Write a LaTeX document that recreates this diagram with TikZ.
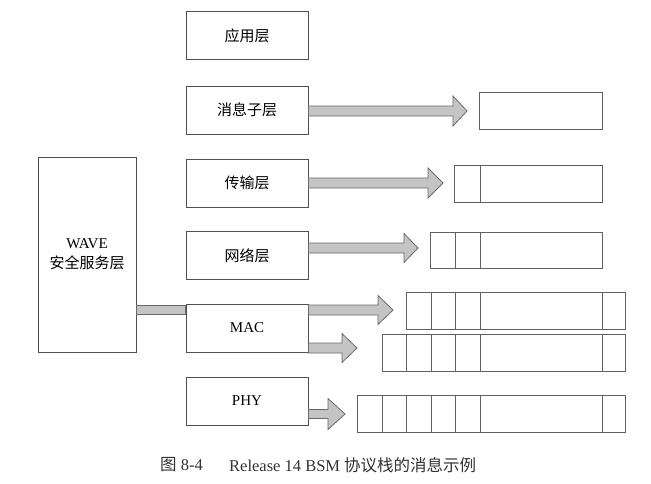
\documentclass[tikz,border=0pt]{standalone}
\usepackage{fontspec}
\setmainfont{Liberation Serif}
\newfontfamily\cjk{Noto Sans CJK SC}
\usetikzlibrary{calc}
\definecolor{boxc}{HTML}{505050}
\definecolor{cellc}{HTML}{606060}
\definecolor{arrc}{HTML}{6A6A6A}
\definecolor{arrfill}{HTML}{C4C4C4}
\newcommand{\blockarrow}[6]{% start node anchor, head start x, tip x, center y, half bar, half head
  \path[arr] ($(#1)+(0,-#5)$) coordinate (ta) -- (#2,#4-#5) -- (#2,#4-#6) -- (#3,#4) -- (#2,#4+#6) -- (#2,#4+#5) -- ($(#1)+(0,#5)$) -- cycle;}
\begin{document}
\begin{tikzpicture}[x=1pt,y=-1pt,
  layerbox/.style={draw=boxc, line width=0.8pt, fill=white, minimum width=122pt, minimum height=48pt, inner sep=0pt, font=\fontsize{15}{17}\selectfont},
  cellbox/.style={draw=cellc, line width=0.7pt, fill=white},
  arr/.style={draw=arrc, fill=arrfill, line width=0.8pt, line join=miter}]
\useasboundingbox (0,0) rectangle (651,483);
\fill[white] (0,0) rectangle (651,483);

% layer boxes
\node[layerbox] (app) at (247,35.5) {\cjk 应用层};
\node[layerbox] (msg) at (247,110) {\cjk 消息子层};
\node[layerbox] (trn) at (247,183) {\cjk 传输层};
\node[layerbox] (net) at (247,255.5) {\cjk 网络层};
\node[layerbox] (mac) at (247,328) {MAC};
\node[layerbox] (phy) at (247,401) {PHY};
\node[layerbox, minimum width=98pt, minimum height=195pt, align=center] (wave) at (87,254.5) {WAVE\\[3pt]{\cjk 安全服务层}};

% WAVE to MAC bar
\path[arr] (wave.east |- 0,305) rectangle (mac.west |- 0,314);

% arrows
\coordinate (a1) at (msg.east |- 0,111);
\blockarrow{a1}{453}{467}{111}{5}{15}
\coordinate (a2) at (trn.east |- 0,183);
\blockarrow{a2}{428}{443}{183}{5}{15}
\coordinate (a3) at (net.east |- 0,248);
\blockarrow{a3}{404}{418}{248}{5}{14.5}
\coordinate (a4) at (mac.east |- 0,310);
\blockarrow{a4}{378}{393}{310}{5}{14.5}
\coordinate (a5) at (mac.east |- 0,348);
\blockarrow{a5}{342}{357}{348}{5}{14.5}
\coordinate (a6) at (phy.east |- 0,414);
\blockarrow{a6}{328}{345}{414}{4.5}{15.5}

% message cells
\node[cellbox, minimum width=123pt, minimum height=37pt, inner sep=0pt] (m1) at (540.5,110.5) {};
% transport
\foreach \a/\b in {454/480,480/602} \draw[cellbox] (\a,165) rectangle (\b,202);
% network
\foreach \a/\b in {430/455,455/480,480/602} \draw[cellbox] (\a,232) rectangle (\b,268);
% MAC row 1
\foreach \a/\b in {406/431,431/455,455/480,480/602,602/625} \draw[cellbox] (\a,292) rectangle (\b,329);
% MAC row 2
\foreach \a/\b in {382/406,406/431,431/455,455/480,480/602,602/625} \draw[cellbox] (\a,334) rectangle (\b,371);
% PHY row
\foreach \a/\b in {357/382,382/406,406/431,431/455,455/480,480/602,602/625} \draw[cellbox] (\a,395) rectangle (\b,432);

% caption
\node[anchor=west, inner sep=0pt, font=\fontsize{16.5}{18}\selectfont, text=black!80] (cap1) at (160,465) {{\cjk 图} 8-4};
\node[anchor=west, inner sep=0pt, font=\fontsize{16.5}{18}\selectfont, text=black!80] (cap2) at (229,465) {Release 14 BSM {\cjk 协议栈的消息示例}};
\end{tikzpicture}
\end{document}
